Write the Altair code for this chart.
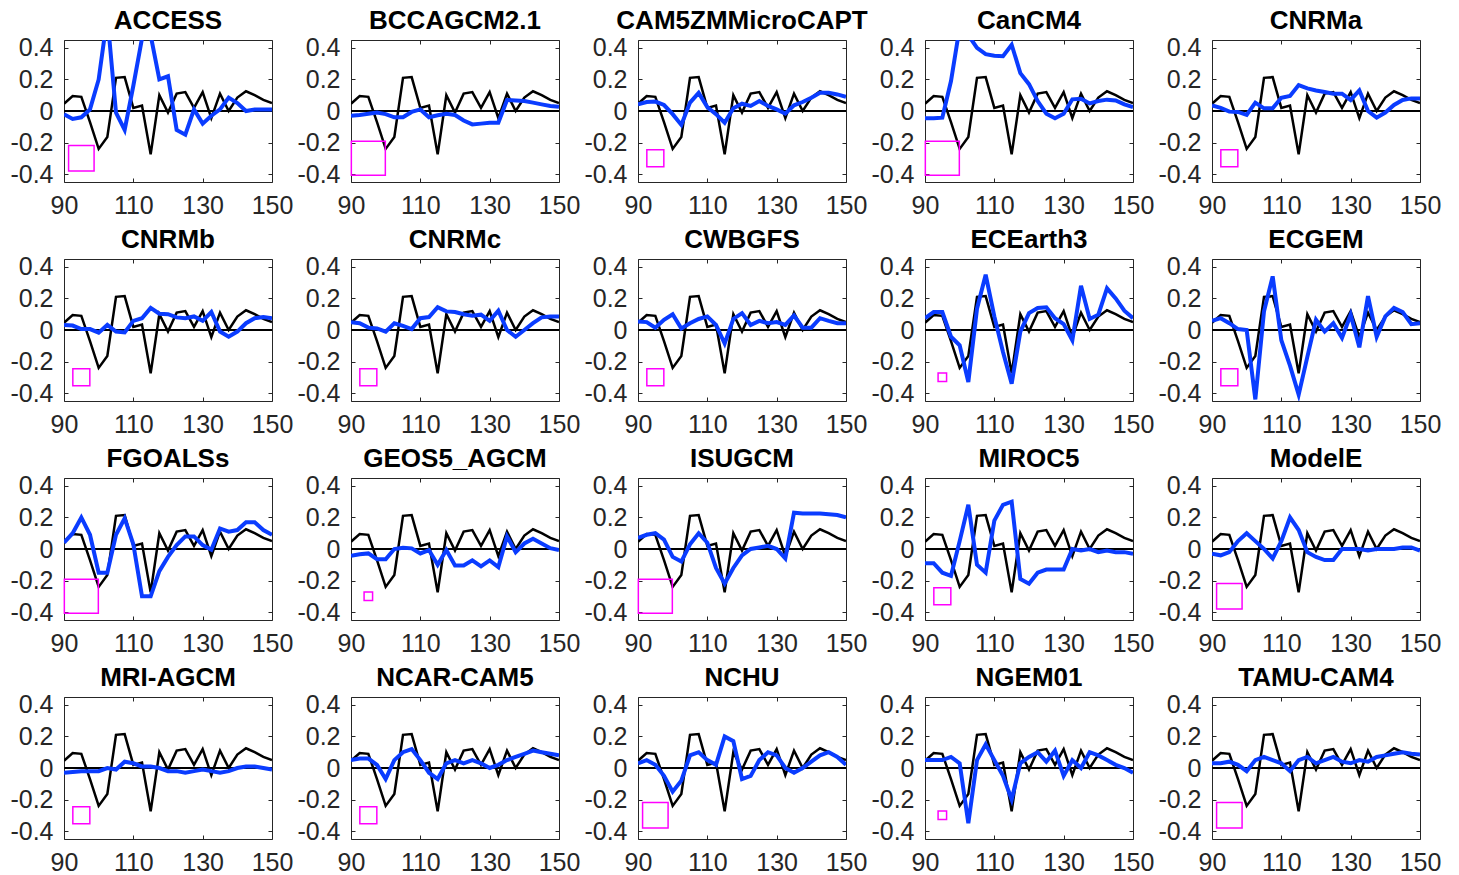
import altair as alt
import pandas as pd

# Longitude grid (degrees E)
lons = [90, 92.5, 95, 97.5, 100, 102.5, 105, 107.5, 110, 112.5, 115, 117.5, 120,
        122.5, 125, 127.5, 130, 132.5, 135, 137.5, 140, 142.5, 145, 147.5, 150]

# Observed profile (black, same in every panel)
observed = [0.046, 0.095, 0.09, -0.07, -0.24, -0.165, 0.21, 0.215, 0.02, 0.035, -0.275, 0.1, -0.01,
            0.11, 0.12, 0.02, 0.12, -0.045, 0.11, 0.0, 0.085, 0.125, 0.1, 0.07, 0.05]

# Model profiles (blue)
access = [-0.02, -0.05, -0.04, 0.01, 0.2, 0.6, -0.01, -0.12, 0.16, 0.46, 0.48, 0.2, 0.22,
          -0.12, -0.15, 0.01, -0.08, -0.03, 0.01, 0.085, 0.05, 0.0, 0.01, 0.01, 0.01]
bccagcm = [-0.03, -0.025, -0.017, -0.01, -0.02, -0.04, -0.04, -0.006, 0.01, -0.04, -0.027, -0.017, -0.025,
           -0.06, -0.085, -0.08, -0.074, -0.074, 0.07, 0.067, 0.063, 0.053, 0.042, 0.032, 0.027]
cam5zm = [0.042, 0.057, 0.06, 0.038, -0.02, -0.088, 0.053, 0.115, 0.025, -0.02, -0.074, 0.017, 0.046,
          0.032, 0.063, 0.032, 0.01, -0.017, 0.036, 0.057, 0.084, 0.115, 0.115, 0.105, 0.09]
cancm4 = [-0.046, -0.046, -0.042, 0.19, 0.53, 0.48, 0.4, 0.36, 0.35, 0.347, 0.42, 0.24, 0.17,
          0.063, -0.017, -0.046, -0.017, 0.074, 0.078, 0.048, 0.063, 0.072, 0.067, 0.042, 0.025]
cnrma = [0.036, 0.02, -0.004, -0.006, -0.025, 0.053, 0.017, 0.017, 0.084, 0.095, 0.164, 0.143, 0.13,
         0.12, 0.11, 0.11, 0.07, 0.13, 0.0, -0.042, -0.01, 0.038, 0.07, 0.08, 0.08]
cnrmb = [0.032, 0.028, 0.006, 0.006, -0.017, 0.032, -0.01, -0.015, 0.058, 0.075, 0.14, 0.103, 0.1,
         0.08, 0.075, 0.086, 0.058, 0.114, -0.01, -0.043, -0.01, 0.043, 0.075, 0.082, 0.075]
cnrmc = [0.05, 0.043, 0.015, 0.01, -0.01, 0.043, 0.026, 0.006, 0.075, 0.082, 0.144, 0.118, 0.114,
         0.1, 0.09, 0.097, 0.058, 0.122, 0.0, -0.043, 0.0, 0.043, 0.08, 0.086, 0.086]
cwbgfs = [0.054, 0.05, 0.015, 0.065, 0.1, 0.01, 0.043, 0.07, 0.086, 0.032, -0.086, 0.07, 0.107,
          0.032, 0.058, 0.043, 0.05, 0.032, 0.092, 0.015, 0.015, 0.075, 0.058, 0.043, 0.043]
ecearth3 = [0.075, 0.114, 0.114, -0.043, -0.097, -0.33, 0.135, 0.35, 0.086, -0.14, -0.34, -0.01, 0.107,
            0.14, 0.144, 0.075, 0.037, -0.065, 0.28, 0.07, 0.097, 0.264, 0.2, 0.122, 0.075]
ecgem = [0.058, 0.075, 0.043, 0.006, 0.0, -0.44, 0.118, 0.34, -0.065, -0.226, -0.41, -0.17, 0.065,
         -0.01, 0.043, -0.05, 0.097, -0.11, 0.215, -0.043, 0.086, 0.14, 0.114, 0.037, 0.043]
fgoalss = [0.04, 0.1, 0.2, 0.09, -0.15, -0.15, 0.09, 0.195, 0.03, -0.3, -0.3, -0.14, -0.05,
           0.025, 0.08, 0.08, 0.025, -0.005, 0.13, 0.11, 0.12, 0.17, 0.17, 0.12, 0.09]
geos5 = [-0.043, -0.033, -0.028, -0.065, -0.065, 0.0, 0.008, 0.004, -0.028, -0.007, -0.1, -0.007, -0.105,
         -0.105, -0.072, -0.11, -0.072, -0.115, 0.08, -0.02, 0.035, 0.065, 0.035, 0.005, -0.007]
isugcm = [0.07, 0.09, 0.1, 0.06, -0.05, -0.08, 0.03, 0.1, 0.04, -0.12, -0.22, -0.12, -0.04,
          0.0, 0.01, 0.02, 0.0, -0.06, 0.23, 0.225, 0.225, 0.225, 0.22, 0.215, 0.2]
miroc5 = [-0.09, -0.09, -0.15, -0.17, 0.05, 0.28, -0.1, -0.15, 0.18, 0.28, 0.3, -0.19, -0.22,
          -0.15, -0.13, -0.13, -0.13, 0.0, -0.01, 0.0, -0.02, -0.01, -0.02, -0.02, -0.03]
modele = [-0.03, -0.04, -0.02, 0.05, 0.1, 0.05, 0.0, -0.06, 0.05, 0.2, 0.12, -0.02, -0.05,
          -0.07, -0.07, 0.0, 0.0, 0.0, -0.01, 0.0, 0.0, 0.0, 0.01, 0.01, -0.01]
mri_agcm = [-0.03, -0.025, -0.02, -0.02, -0.02, 0.0, -0.01, 0.04, 0.03, 0.01, 0.01, 0.0, -0.02,
            -0.02, -0.03, -0.02, -0.01, -0.02, -0.03, -0.02, 0.0, 0.01, 0.01, 0.0, -0.01]
ncar_cam5 = [0.05, 0.06, 0.06, 0.02, -0.07, 0.05, 0.1, 0.12, 0.05, -0.03, -0.07, 0.03, 0.05,
             0.03, 0.05, 0.03, 0.0, 0.02, 0.05, 0.07, 0.09, 0.11, 0.1, 0.09, 0.08]
nchu = [0.03, 0.05, 0.02, -0.05, -0.15, -0.08, 0.08, 0.1, 0.05, 0.02, 0.2, 0.17, -0.07,
        -0.05, 0.05, 0.1, 0.08, 0.0, -0.03, 0.0, 0.04, 0.08, 0.1, 0.07, 0.02]
ngem01 = [0.05, 0.05, 0.05, 0.07, 0.03, -0.35, 0.05, 0.15, 0.05, -0.05, -0.2, 0.03, 0.07,
          0.1, 0.04, 0.11, -0.05, 0.05, 0.0, 0.1, 0.08, 0.05, 0.02, 0.0, -0.03]
tamu_cam4 = [0.03, 0.03, 0.04, 0.02, -0.02, 0.05, 0.07, 0.05, 0.03, -0.02, 0.05, 0.07, 0.03,
             0.05, 0.07, 0.04, 0.03, 0.05, 0.04, 0.07, 0.08, 0.09, 0.1, 0.09, 0.085]

model_names = ["ACCESS", "BCCAGCM2.1", "CAM5ZMMicroCAPT", "CanCM4", "CNRMa",
               "CNRMb", "CNRMc", "CWBGFS", "ECEarth3", "ECGEM",
               "FGOALSs", "GEOS5_AGCM", "ISUGCM", "MIROC5", "ModelE",
               "MRI-AGCM", "NCAR-CAM5", "NCHU", "NGEM01", "TAMU-CAM4"]
model_series = [access, bccagcm, cam5zm, cancm4, cnrma,
                cnrmb, cnrmc, cwbgfs, ecearth3, ecgem,
                fgoalss, geos5, isugcm, miroc5, modele,
                mri_agcm, ncar_cam5, nchu, ngem01, tamu_cam4]
# Skill class shown by the magenta square (1 = smallest, 4 = largest)
skill_class = [3, 4, 2, 4, 2,
               2, 2, 2, 1, 2,
               4, 1, 4, 2, 3,
               2, 2, 3, 1, 3]

marker_lon = 95
marker_val = -0.3

FONT = "Liberation Sans"
AXIS_COLOR = "#262626"
BLUE = "#0a3cff"
MAGENTA = "#ff00ff"
TICK = 4
LABEL_SIZE = 25

x_scale = alt.Scale(domain=[90, 150], nice=False, zero=False)
y_scale = alt.Scale(domain=[-0.45, 0.45], nice=False, zero=False)
x_ticks = [90, 110, 130, 150]
y_ticks = [-0.4, -0.2, 0, 0.2, 0.4]
y_label_expr = ("abs(datum.value) < 1e-9 ? '0' : "
                "(datum.value < 0 ? '-' + format(-datum.value, '.1f') : format(datum.value, '.1f'))")


def axis(orient, values, labels=True):
    # Ticks point into the plot: the axis is pulled inside by the tick length
    opts = dict(orient=orient, values=values, domain=False, grid=False, ticks=True,
                tickSize=TICK, offset=-TICK, tickColor=AXIS_COLOR, tickWidth=1,
                labels=labels)
    if labels:
        opts.update(labelFont=FONT, labelFontSize=LABEL_SIZE, labelColor=AXIS_COLOR,
                    labelFlush=False, labelOverlap=False, labelBound=False)
        if orient in ("left", "right"):
            opts.update(labelExpr=y_label_expr, labelPadding=11)
        else:
            opts.update(labelPadding=11)
    return alt.Axis(**opts)


def panel(name, values, skill):
    df = pd.DataFrame({"lon": lons, "obs": observed, "model": values})
    marker = pd.DataFrame({"lon": [marker_lon], "val": [marker_val], "skill": [skill]})

    zero = alt.Chart(df).mark_rule(color="black", strokeWidth=1).encode(
        y=alt.YDatum(0, scale=y_scale, axis=None)
    )
    obs_line = alt.Chart(df).mark_line(color="black", strokeWidth=2.5, clip=True).encode(
        x=alt.X("lon:Q", scale=x_scale, axis=axis("bottom", x_ticks), title=""),
        y=alt.Y("obs:Q", scale=y_scale, axis=axis("left", y_ticks), title=""),
    )
    model_line = alt.Chart(df).mark_line(color=BLUE, strokeWidth=4, clip=True).encode(
        x=alt.X("lon:Q", scale=x_scale, axis=None),
        y=alt.Y("model:Q", scale=y_scale, axis=None),
    )
    square = alt.Chart(marker).mark_point(shape="square", filled=False, color=MAGENTA,
                                          strokeWidth=1.5, opacity=1).encode(
        x=alt.X("lon:Q", scale=x_scale, axis=axis("top", x_ticks, labels=False), title=""),
        y=alt.Y("val:Q", scale=y_scale, axis=axis("right", y_ticks, labels=False), title=""),
        size=alt.Size("skill:Q", scale=alt.Scale(type="pow", exponent=2, domain=[0, 4],
                                                 range=[0, 1156]), legend=None),
    )
    return alt.layer(zero, obs_line, model_line, square).resolve_axis(
        x="independent", y="independent"
    ).properties(
        width=208, height=142,
        title=alt.TitleParams(name, font=FONT, fontSize=26, fontWeight="bold",
                              color="black", anchor="middle", offset=2),
    )


charts = [panel(n, s, k) for n, s, k in zip(model_names, model_series, skill_class)]

chart = alt.concat(*charts, columns=5, spacing={"row": 77, "column": 79}, bounds="flush").properties(
    padding={"left": 9, "top": 7, "right": 5, "bottom": 5},
    background="white",
).configure_view(stroke=AXIS_COLOR, strokeWidth=1)

chart.save("out.html", embed_options={"renderer": "svg", "actions": False})
